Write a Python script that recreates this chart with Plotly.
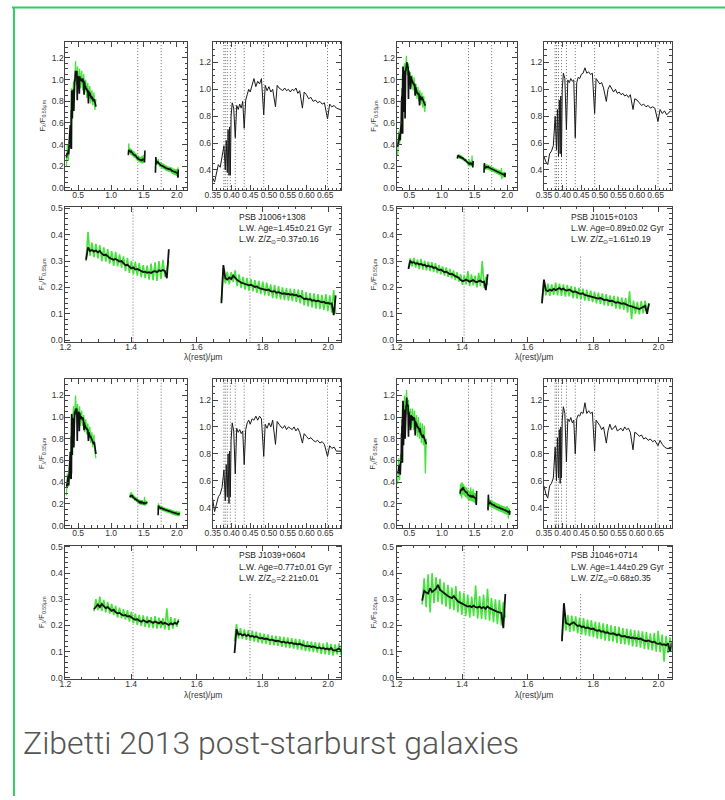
import numpy as np
import plotly.graph_objects as go

# ---------------------------------------------------------------------------
# Rest-frame wavelength grid (micron) for the optical model spectra
# ---------------------------------------------------------------------------
opt_wl = [0.320, 0.330, 0.340, 0.350, 0.355, 0.360, 0.365, 0.370, 0.375, 0.380,
          0.3835, 0.386, 0.3889, 0.391, 0.3934, 0.3950, 0.3970, 0.399, 0.402, 0.406,
          0.4102, 0.414, 0.418, 0.422, 0.426, 0.430, 0.4340, 0.438, 0.442, 0.446,
          0.450, 0.455, 0.460, 0.465, 0.470, 0.475, 0.480, 0.4861, 0.490, 0.495,
          0.500, 0.505, 0.510, 0.5175, 0.522, 0.527, 0.532, 0.537, 0.542, 0.547,
          0.552, 0.557, 0.562, 0.567, 0.572, 0.577, 0.582, 0.5893, 0.594, 0.600,
          0.606, 0.612, 0.618, 0.624, 0.630, 0.636, 0.642, 0.648, 0.6563, 0.662,
          0.668, 0.674, 0.680, 0.690, 0.700, 0.715, 0.730, 0.745, 0.760, 0.770]

# Balmer lines marked in the optical zoom, NIR markers
balmer_wl = [0.3798, 0.3835, 0.3889, 0.3970, 0.4102, 0.4340, 0.4861, 0.6563]
nir_marks = [1.406, 1.762]
nir_mark_tops = [None, 0.32]

# ---------------------------------------------------------------------------
# Galaxy properties
# ---------------------------------------------------------------------------
psb_names = ["PSB J1006+1308", "PSB J1015+0103", "PSB J1039+0604", "PSB J1046+0714"]
lw_age = [1.45, 0.89, 0.77, 1.44]
lw_age_err = [0.21, 0.02, 0.01, 0.29]
lw_met = [0.37, 1.61, 2.21, 0.68]
lw_met_err = [0.16, 0.19, 0.01, 0.35]

# ---------------------------------------------------------------------------
# PSB J1006+1308
# ---------------------------------------------------------------------------
j1006_opt_model = [0.28, 0.32, 0.31, 0.34, 0.31, 0.38, 0.44, 0.42, 0.50, 0.58,
                   0.40, 0.62, 0.38, 0.70, 0.36, 0.72, 0.36, 0.80, 0.90, 0.86,
                   0.64, 0.88, 0.85, 0.89, 0.86, 0.91, 0.71, 0.92, 0.96, 1.00,
                   0.98, 1.04, 1.08, 1.02, 1.06, 1.04, 1.08, 0.81, 1.03, 0.99,
                   1.02, 0.98, 1.00, 0.87, 1.03, 1.01, 1.00, 0.99, 1.01, 0.99,
                   1.00, 0.98, 1.00, 0.99, 1.01, 0.97, 0.99, 0.86, 0.98, 0.96,
                   0.93, 0.94, 0.91, 0.92, 0.90, 0.91, 0.89, 0.90, 0.78, 0.89,
                   0.87, 0.88, 0.86, 0.85, 0.83, 0.84, 0.80, 0.82, 0.78, 0.75]
j1006_opt_span = (0.32, 0.77)
j1006_opt_obs = [0.20, 0.40, 0.25, 0.50, 0.45, 0.92, 0.78, 0.98, 0.88, 1.17,
                 0.95, 1.12, 0.90, 1.10, 0.92, 1.08, 0.90, 1.05, 0.88, 1.00,
                 0.83, 0.97, 0.82, 0.94, 0.78, 0.90, 0.76, 0.88, 0.72, 0.82]
j1006_J_span = (1.263, 1.515)
j1006_J_model = [0.305, 0.352, 0.338, 0.342, 0.336, 0.340, 0.333, 0.338, 0.328, 0.322,
                 0.325, 0.318, 0.312, 0.308, 0.305, 0.308, 0.302, 0.298, 0.300, 0.290,
                 0.284, 0.286, 0.278, 0.272, 0.276, 0.268, 0.270, 0.266, 0.262, 0.258,
                 0.260, 0.256, 0.258, 0.255, 0.260, 0.262, 0.258, 0.265, 0.262, 0.266,
                 0.262, 0.235, 0.345]
j1006_J_obs = [0.300, 0.410, 0.320, 0.370, 0.315, 0.365, 0.310, 0.360, 0.300, 0.352,
               0.298, 0.345, 0.290, 0.338, 0.282, 0.335, 0.280, 0.325, 0.275, 0.318,
               0.262, 0.312, 0.255, 0.300, 0.250, 0.298, 0.245, 0.292, 0.238, 0.285,
               0.235, 0.283, 0.230, 0.290, 0.228, 0.295, 0.225, 0.300, 0.232, 0.305,
               0.240, 0.270, 0.300]
j1006_H_span = (1.675, 2.023)
j1006_H_model = [0.140, 0.285, 0.235, 0.230, 0.238, 0.232, 0.245, 0.235, 0.228, 0.224,
                 0.218, 0.216, 0.214, 0.212, 0.208, 0.210, 0.205, 0.202, 0.204, 0.198,
                 0.196, 0.195, 0.192, 0.190, 0.192, 0.186, 0.184, 0.186, 0.180, 0.182,
                 0.178, 0.176, 0.178, 0.174, 0.176, 0.172, 0.174, 0.170, 0.172, 0.166,
                 0.168, 0.162, 0.156, 0.158, 0.154, 0.156, 0.150, 0.152, 0.148, 0.150,
                 0.146, 0.144, 0.146, 0.140, 0.142, 0.138, 0.140, 0.095, 0.170]
j1006_H_obs = [0.150, 0.270, 0.215, 0.260, 0.212, 0.258, 0.220, 0.265, 0.205, 0.250,
               0.198, 0.240, 0.192, 0.236, 0.188, 0.232, 0.185, 0.228, 0.180, 0.225,
               0.175, 0.222, 0.170, 0.218, 0.168, 0.212, 0.160, 0.210, 0.158, 0.205,
               0.155, 0.200, 0.152, 0.198, 0.150, 0.196, 0.148, 0.195, 0.145, 0.192,
               0.140, 0.190, 0.132, 0.182, 0.128, 0.180, 0.125, 0.178, 0.120, 0.175,
               0.118, 0.172, 0.115, 0.175, 0.110, 0.170, 0.105, 0.190, 0.100]

# ---------------------------------------------------------------------------
# PSB J1015+0103
# ---------------------------------------------------------------------------
j1015_opt_model = [0.38, 0.42, 0.46, 0.50, 0.46, 0.44, 0.52, 0.54, 0.58, 0.80,
                   0.55, 0.85, 0.50, 0.92, 0.52, 0.95, 0.50, 1.00, 1.12, 1.08,
                   0.70, 1.07, 1.05, 1.08, 1.06, 1.07, 0.64, 1.05, 1.09, 1.08,
                   1.11, 1.12, 1.16, 1.12, 1.13, 1.11, 1.12, 0.82, 1.08, 1.06,
                   1.04, 1.05, 1.01, 0.91, 1.00, 1.03, 1.00, 0.98, 1.00, 0.97,
                   0.98, 0.96, 0.97, 0.95, 0.96, 0.94, 0.96, 0.85, 0.93, 0.92,
                   0.90, 0.88, 0.89, 0.87, 0.88, 0.86, 0.87, 0.86, 0.76, 0.85,
                   0.82, 0.84, 0.81, 0.84, 0.82, 0.80, 0.78, 0.76, None, None]
j1015_opt_span = (0.32, 0.75)
j1015_opt_obs = [0.30, 0.52, 0.40, 0.58, 0.60, 1.05, 0.98, 1.15, 1.00, 1.22,
                 1.04, 1.15, 0.97, 1.07, 0.93, 1.04, 0.90, 1.02, 0.86, 0.96,
                 0.82, 0.93, 0.80, 0.90, 0.77, 0.88, 0.74, 0.85, 0.70, 0.80]
j1015_J_span = (1.236, 1.478)
j1015_J_model = [0.270, 0.300, 0.294, 0.296, 0.290, 0.292, 0.287, 0.290, 0.284, 0.286,
                 0.280, 0.283, 0.278, 0.280, 0.274, 0.276, 0.270, 0.266, 0.268, 0.262,
                 0.258, 0.260, 0.254, 0.250, 0.252, 0.246, 0.243, 0.240, 0.236, 0.228,
                 0.224, 0.226, 0.230, 0.226, 0.222, 0.225, 0.228, 0.222, 0.220, 0.224,
                 0.226, 0.220, 0.222, 0.190, 0.250]
j1015_J_obs = [0.280, 0.310, 0.280, 0.312, 0.275, 0.305, 0.270, 0.308, 0.268, 0.302,
               0.265, 0.298, 0.262, 0.296, 0.258, 0.292, 0.255, 0.285, 0.250, 0.280,
               0.245, 0.276, 0.240, 0.270, 0.235, 0.265, 0.228, 0.258, 0.222, 0.250,
               0.210, 0.245, 0.212, 0.262, 0.205, 0.250, 0.208, 0.245, 0.200, 0.255,
               0.205, 0.300, 0.198, 0.240, 0.210]
j1015_H_span = (1.644, 1.971)
j1015_H_model = [0.140, 0.230, 0.190, 0.186, 0.192, 0.188, 0.195, 0.190, 0.194, 0.198,
                 0.192, 0.196, 0.190, 0.188, 0.192, 0.186, 0.183, 0.185, 0.180, 0.178,
                 0.176, 0.178, 0.172, 0.170, 0.168, 0.166, 0.164, 0.162, 0.160, 0.158,
                 0.160, 0.155, 0.152, 0.154, 0.150, 0.148, 0.150, 0.145, 0.142, 0.144,
                 0.140, 0.138, 0.140, 0.136, 0.134, 0.130, 0.128, 0.125, 0.122, 0.120,
                 0.118, 0.122, 0.126, 0.130, 0.100, 0.140]
j1015_H_obs = [0.150, 0.220, 0.170, 0.215, 0.168, 0.212, 0.172, 0.218, 0.170, 0.215,
               0.168, 0.212, 0.165, 0.210, 0.166, 0.205, 0.160, 0.202, 0.158, 0.198,
               0.155, 0.196, 0.150, 0.192, 0.148, 0.188, 0.145, 0.184, 0.140, 0.180,
               0.138, 0.178, 0.132, 0.175, 0.130, 0.170, 0.128, 0.168, 0.120, 0.165,
               0.118, 0.162, 0.115, 0.160, 0.105, 0.185, 0.080, 0.150, 0.100, 0.145,
               0.098, 0.148, 0.102, 0.150, 0.110, 0.135]

# ---------------------------------------------------------------------------
# PSB J1039+0604
# ---------------------------------------------------------------------------
j1039_opt_model = [0.38, 0.36, 0.42, 0.46, 0.37, 0.42, 0.48, 0.50, 0.55, 0.68,
                   0.45, 0.72, 0.48, 0.80, 0.43, 0.82, 0.48, 0.90, 1.03, 0.97,
                   0.65, 0.99, 0.96, 0.98, 0.95, 0.97, 0.72, 0.98, 1.03, 1.05,
                   1.02, 1.06, 1.05, 1.08, 1.05, 1.08, 1.06, 0.78, 1.02, 0.99,
                   1.03, 1.00, 1.05, 0.87, 1.04, 1.02, 1.00, 0.99, 1.01, 0.98,
                   1.00, 0.99, 0.98, 1.00, 0.97, 0.99, 0.96, 0.88, 0.95, 0.93,
                   0.91, 0.92, 0.90, 0.89, 0.90, 0.88, 0.89, 0.87, 0.78, 0.86,
                   0.84, 0.85, 0.82, 0.82, 0.80, 0.79, 0.76, 0.77, 0.72, 0.66]
j1039_opt_span = (0.32, 0.77)
j1039_opt_obs = [0.28, 0.48, 0.36, 0.56, 0.52, 1.00, 0.88, 1.10, 0.95, 1.20,
                 1.00, 1.12, 0.94, 1.10, 0.92, 1.06, 0.92, 1.02, 0.86, 0.98,
                 0.84, 0.94, 0.80, 0.91, 0.76, 0.86, 0.72, 0.84, 0.68, 0.62]
j1039_J_span = (1.287, 1.545)
j1039_J_model = [0.262, 0.272, 0.280, 0.270, 0.282, 0.274, 0.266, 0.270, 0.262, 0.256,
                 0.260, 0.250, 0.246, 0.248, 0.242, 0.238, 0.240, 0.234, 0.236, 0.230,
                 0.226, 0.222, 0.224, 0.218, 0.214, 0.220, 0.216, 0.212, 0.218, 0.214,
                 0.210, 0.215, 0.212, 0.208, 0.214, 0.206, 0.210, 0.205, 0.202, 0.208,
                 0.204, 0.210, 0.206, 0.218]
j1039_J_obs = [0.255, 0.300, 0.258, 0.310, 0.255, 0.298, 0.250, 0.290, 0.245, 0.282,
               0.240, 0.275, 0.230, 0.268, 0.228, 0.262, 0.222, 0.258, 0.215, 0.252,
               0.208, 0.245, 0.202, 0.240, 0.198, 0.238, 0.195, 0.235, 0.192, 0.232,
               0.190, 0.236, 0.188, 0.230, 0.190, 0.228, 0.185, 0.265, 0.182, 0.232,
               0.188, 0.228, 0.195, 0.225]
j1039_H_span = (1.715, 2.045)
j1039_H_model = [0.095, 0.185, 0.165, 0.168, 0.162, 0.166, 0.160, 0.164, 0.158, 0.160,
                 0.156, 0.158, 0.154, 0.150, 0.153, 0.148, 0.150, 0.146, 0.144, 0.146,
                 0.142, 0.140, 0.142, 0.138, 0.136, 0.138, 0.134, 0.136, 0.132, 0.134,
                 0.130, 0.131, 0.128, 0.130, 0.126, 0.124, 0.122, 0.120, 0.122, 0.118,
                 0.120, 0.116, 0.114, 0.116, 0.112, 0.114, 0.110, 0.112, 0.108, 0.114,
                 0.106, 0.104, 0.108, 0.112, 0.106, 0.110]
j1039_H_obs = [0.140, 0.205, 0.150, 0.190, 0.148, 0.185, 0.145, 0.182, 0.140, 0.180,
               0.138, 0.176, 0.135, 0.172, 0.132, 0.168, 0.130, 0.166, 0.126, 0.162,
               0.124, 0.160, 0.122, 0.158, 0.118, 0.156, 0.116, 0.154, 0.114, 0.152,
               0.112, 0.150, 0.108, 0.148, 0.106, 0.145, 0.102, 0.140, 0.100, 0.138,
               0.098, 0.136, 0.096, 0.134, 0.092, 0.132, 0.090, 0.135, 0.088, 0.130,
               0.085, 0.128, 0.090, 0.132, 0.088, 0.125]

# ---------------------------------------------------------------------------
# PSB J1046+0714
# ---------------------------------------------------------------------------
j1046_opt_model = [0.50, 0.48, 0.55, 0.56, 0.50, 0.47, 0.56, 0.58, 0.62, 0.85,
                   0.60, 0.92, 0.62, 0.98, 0.58, 1.00, 0.62, 1.05, 1.15, 1.10,
                   0.74, 1.06, 1.04, 1.07, 1.03, 1.05, 0.80, 1.06, 1.09, 1.08,
                   1.11, 1.10, 1.18, 1.10, 1.12, 1.10, 1.11, 0.82, 1.05, 1.03,
                   1.01, 0.98, 1.00, 0.88, 0.97, 1.02, 0.98, 0.99, 1.01, 0.97,
                   0.98, 0.99, 0.97, 1.00, 0.98, 0.99, 0.96, 0.83, 0.96, 0.95,
                   0.93, 0.94, 0.91, 0.92, 0.90, 0.91, 0.89, 0.90, 0.86, 0.90,
                   0.87, 0.85, 0.84, 0.84, 0.82, 0.83, 0.80, 0.78, 0.75, None]
j1046_opt_span = (0.32, 0.76)
j1046_opt_obs = [0.38, 0.62, 0.42, 0.66, 0.65, 1.15, 0.95, 1.20, 1.00, 1.25,
                 1.02, 1.16, 0.92, 1.08, 0.90, 1.08, 0.88, 1.06, 0.85, 1.02,
                 0.82, 1.00, 0.80, 0.95, 0.76, 0.94, 0.74, 0.92, 0.48, 0.80]
j1046_J_span = (1.278, 1.532)
j1046_J_model = [0.295, 0.332, 0.326, 0.322, 0.342, 0.328, 0.334, 0.340, 0.355, 0.336,
                 0.330, 0.322, 0.318, 0.312, 0.308, 0.304, 0.312, 0.300, 0.292, 0.288,
                 0.284, 0.280, 0.276, 0.272, 0.274, 0.270, 0.276, 0.270, 0.268, 0.272,
                 0.266, 0.270, 0.264, 0.272, 0.266, 0.262, 0.258, 0.255, 0.252, 0.250,
                 0.248, 0.190, 0.320]
j1046_J_obs = [0.280, 0.380, 0.270, 0.395, 0.250, 0.400, 0.285, 0.385, 0.290, 0.378,
               0.280, 0.365, 0.272, 0.355, 0.262, 0.345, 0.258, 0.350, 0.250, 0.330,
               0.240, 0.325, 0.235, 0.318, 0.230, 0.310, 0.235, 0.352, 0.226, 0.312,
               0.225, 0.318, 0.222, 0.340, 0.218, 0.305, 0.212, 0.300, 0.205, 0.298,
               0.200, 0.290, 0.230]
j1046_H_span = (1.705, 2.041)
j1046_H_model = [0.140, 0.285, 0.210, 0.205, 0.202, 0.208, 0.212, 0.204, 0.198, 0.200,
                 0.194, 0.196, 0.190, 0.192, 0.188, 0.186, 0.188, 0.182, 0.180, 0.182,
                 0.176, 0.178, 0.172, 0.174, 0.170, 0.168, 0.170, 0.165, 0.163, 0.166,
                 0.160, 0.158, 0.160, 0.155, 0.156, 0.152, 0.154, 0.150, 0.152, 0.148,
                 0.150, 0.145, 0.142, 0.140, 0.143, 0.138, 0.136, 0.138, 0.132, 0.130,
                 0.132, 0.126, 0.128, 0.124, 0.132, 0.100, 0.135]
j1046_H_obs = [0.150, 0.245, 0.180, 0.240, 0.175, 0.238, 0.178, 0.235, 0.170, 0.230,
               0.165, 0.228, 0.162, 0.222, 0.158, 0.220, 0.155, 0.215, 0.150, 0.212,
               0.148, 0.208, 0.142, 0.205, 0.140, 0.200, 0.138, 0.198, 0.132, 0.196,
               0.130, 0.190, 0.128, 0.188, 0.125, 0.185, 0.120, 0.182, 0.118, 0.180,
               0.115, 0.178, 0.110, 0.175, 0.108, 0.170, 0.105, 0.172, 0.100, 0.180,
               0.098, 0.165, 0.062, 0.160, 0.095, 0.155, 0.100]

galaxies = [
    dict(opt=j1006_opt_model, obs=j1006_opt_obs, obs_span=j1006_opt_span,
         J=(j1006_J_span, j1006_J_model, j1006_J_obs), H=(j1006_H_span, j1006_H_model, j1006_H_obs)),
    dict(opt=j1015_opt_model, obs=j1015_opt_obs, obs_span=j1015_opt_span,
         J=(j1015_J_span, j1015_J_model, j1015_J_obs), H=(j1015_H_span, j1015_H_model, j1015_H_obs)),
    dict(opt=j1039_opt_model, obs=j1039_opt_obs, obs_span=j1039_opt_span,
         J=(j1039_J_span, j1039_J_model, j1039_J_obs), H=(j1039_H_span, j1039_H_model, j1039_H_obs)),
    dict(opt=j1046_opt_model, obs=j1046_opt_obs, obs_span=j1046_opt_span,
         J=(j1046_J_span, j1046_J_model, j1046_J_obs), H=(j1046_H_span, j1046_H_model, j1046_H_obs)),
]
for g in galaxies:
    assert len(g["opt"]) == len(opt_wl)

# ---------------------------------------------------------------------------
# Page geometry (pixels)
# ---------------------------------------------------------------------------
W, H = 725, 800
COLS = [(58, 181, 207, 337), (393, 515, 542, 671)]   # A x0,x1 ; B x0,x1
ROWS = [(38, 188, 205, 341), (379, 529, 547, 682)]   # A/B y0,y1 ; C y0,y1

GREEN = "#45e23c"
BLACK = "#111111"
FRAME = "#444444"
FONT = "Liberation Sans, Arial, sans-serif"
TICKFONT = dict(family=FONT, size=8.5, color="#333333")


def px_x(x):
    return x / W


def px_y(y):
    return 1 - y / H


def sfx(n):
    return "" if n == 1 else str(n)


def axis(domain, rng, dtick, minor, fmt, anchor, standoff):
    return dict(domain=domain, range=rng, dtick=dtick, tick0=0, tickformat=fmt,
                tickangle=0, ticklabelstandoff=standoff,
                ticks="inside", ticklen=5, tickwidth=0.8, tickcolor=FRAME,
                minor=dict(dtick=minor, tick0=0, ticks="inside", ticklen=2.5,
                           tickwidth=0.7, tickcolor=FRAME, showgrid=False),
                showline=True, linecolor=FRAME, linewidth=1, mirror="allticks",
                showgrid=False, zeroline=False, tickfont=TICKFONT, anchor=anchor,
                fixedrange=True)


fig = go.Figure()
layout = {}
shapes = []
annotations = []


def add_line(n, x, y, color, width):
    fig.add_trace(go.Scatter(x=x, y=y, mode="lines", line=dict(color=color, width=width),
                             xaxis=f"x{sfx(n)}", yaxis=f"y{sfx(n)}", showlegend=False,
                             hoverinfo="skip", connectgaps=False))


ytitle = "F<sub>λ</sub>/F<sub>0.55μm</sub>"
dot = dict(color="#6e6e6e", width=1, dash="1px,2px")

for gi, g in enumerate(galaxies):
    ax0, ax1, bx0, bx1 = COLS[gi % 2]
    ay0, ay1, cy0, cy1 = ROWS[gi // 2]
    na, nb, nc = 3 * gi + 1, 3 * gi + 2, 3 * gi + 3
    a, b, c = sfx(na), sfx(nb), sfx(nc)

    # axes
    layout[f"xaxis{a}"] = axis([px_x(ax0), px_x(ax1)], [0.305, 2.155], 0.5, 0.1, ".1f", f"y{a}", -3)
    layout[f"yaxis{a}"] = axis([px_y(ay1), px_y(ay0)], [-0.02, 1.35], 0.2, 0.05, ".1f", f"x{a}", -1)
    layout[f"xaxis{b}"] = axis([px_x(bx0), px_x(bx1)], [0.35, 0.693], 0.05, 0.01, ".2f", f"y{b}", -3)
    layout[f"yaxis{b}"] = axis([px_y(ay1), px_y(ay0)], [0.25, 1.355], 0.2, 0.05, ".1f", f"x{b}", -1)
    layout[f"xaxis{c}"] = axis([px_x(ax0), px_x(bx1)], [1.2, 2.04], 0.2, 0.05, ".1f", f"y{c}", -3)
    layout[f"yaxis{c}"] = axis([px_y(cy1), px_y(cy0)], [-0.005, 0.505], 0.1, 0.02, ".1f", f"x{c}", 0)

    obs_wl = np.linspace(g["obs_span"][0], g["obs_span"][1], len(g["obs"]))
    segs = []
    for span, model, obs in (g["J"], g["H"]):
        segs.append((np.linspace(span[0], span[1], len(model)), model, obs))

    # panel A: full SED
    add_line(na, obs_wl, g["obs"], GREEN, 1.3)
    for wl, model, obs in segs:
        add_line(na, wl, obs, GREEN, 1.3)
    add_line(na, opt_wl, g["opt"], BLACK, 1.7)
    for wl, model, obs in segs:
        add_line(na, wl, model, BLACK, 1.6)

    # panel B: optical zoom
    add_line(nb, opt_wl, g["opt"], "#1a1a1a", 1.0)

    # panel C: NIR zoom
    for wl, model, obs in segs:
        add_line(nc, wl, obs, GREEN, 1.6)
    for wl, model, obs in segs:
        add_line(nc, wl, model, BLACK, 1.8)

    for w in nir_marks:
        shapes.append(dict(type="line", xref=f"x{a}", yref=f"y{a} domain", x0=w, x1=w,
                           y0=0, y1=1, line=dot, layer="below"))
    for w, top in zip(nir_marks, nir_mark_tops):
        if top is None:
            shapes.append(dict(type="line", xref=f"x{c}", yref=f"y{c} domain", x0=w, x1=w,
                               y0=0, y1=1, line=dot, layer="below"))
        else:
            shapes.append(dict(type="line", xref=f"x{c}", yref=f"y{c}", x0=w, x1=w,
                               y0=-0.005, y1=top, line=dot, layer="below"))
    for w in balmer_wl:
        shapes.append(dict(type="line", xref=f"x{b}", yref=f"y{b} domain", x0=w, x1=w,
                           y0=0, y1=1, line=dot, layer="below"))

    # axis titles
    tx = ax0 - 23
    for yc in ((ay0 + ay1) / 2, (cy0 + cy1) / 2):
        annotations.append(dict(text=ytitle, x=px_x(tx), y=px_y(yc), xref="paper", yref="paper",
                                textangle=-90, showarrow=False, xanchor="center", yanchor="middle",
                                font=dict(family=FONT, size=7.5, color="#333333")))
    annotations.append(dict(text="λ(rest)/μm", x=px_x((ax0 + bx1) / 2), y=px_y(cy1 + 16),
                            xref="paper", yref="paper", showarrow=False,
                            xanchor="center", yanchor="middle",
                            font=dict(family=FONT, size=8.5, color="#333333")))

    # galaxy labels
    lines = [psb_names[gi],
             f"L.W. Age={lw_age[gi]:.2f}±{lw_age_err[gi]:.2f} Gyr",
             f"L.W. Z/Z<sub>⊙</sub>={lw_met[gi]:.2f}±{lw_met_err[gi]:.2f}"]
    for li, txt in enumerate(lines):
        annotations.append(dict(text=txt, x=px_x(ax0 + 174), y=px_y(cy0 + 10 + 11.5 * li),
                                xref="paper", yref="paper", showarrow=False,
                                xanchor="left", yanchor="middle",
                                font=dict(family=FONT, size=8.5, color="#222222")))

# caption
annotations.append(dict(text="Zibetti 2013 post-starburst galaxies", x=px_x(13), y=px_y(746),
                        xref="paper", yref="paper", showarrow=False, xanchor="left",
                        yanchor="middle",
                        font=dict(family="Roboto", size=32, weight=300, color="#555555")))

# green frame on the top and left edges
shapes.append(dict(type="line", xref="paper", yref="paper", x0=px_x(4), x1=1,
                   y0=px_y(3.5), y1=px_y(3.5), line=dict(color="#2ecc63", width=2)))
shapes.append(dict(type="line", xref="paper", yref="paper", x0=px_x(6), x1=px_x(6),
                   y0=px_y(3), y1=0, line=dict(color="#2ecc63", width=2)))

fig.update_layout(width=W, height=H, margin=dict(l=0, r=0, t=0, b=0),
                  paper_bgcolor="white", plot_bgcolor="white", showlegend=False,
                  hovermode=False, shapes=shapes, annotations=annotations, **layout)

fig.write_html("out.html", config=dict(displayModeBar=False))
